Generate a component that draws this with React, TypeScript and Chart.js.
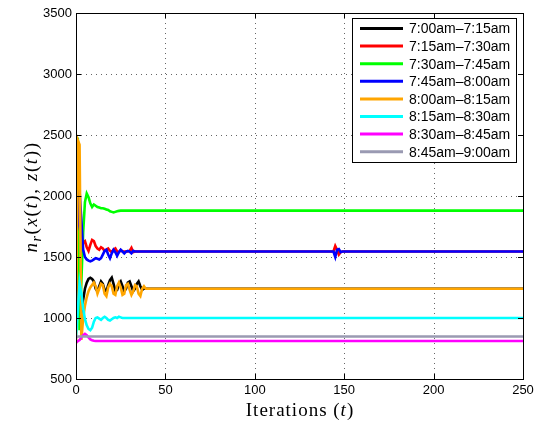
import React, { useEffect, useRef } from "react";
import { Chart, registerables } from "chart.js";

Chart.register(...registerables);

// Iterations 0..44 (early transient), then tail iterations
const earlyIters = [
  0, 1, 2, 3, 4, 5, 6, 7, 8, 9, 10, 11, 12, 13, 14, 15, 16, 17, 18, 19, 20, 21,
  22, 23, 24, 25, 26, 27, 28, 29, 30, 31, 32, 33, 34, 35, 36, 37, 38, 39, 40,
  41, 42, 43, 44,
];
const tailIters = [144, 145, 146, 147, 148, 149, 250];

const seriesLabels = [
  "7:00am–7:15am",
  "7:15am–7:30am",
  "7:30am–7:45am",
  "7:45am–8:00am",
  "8:00am–8:15am",
  "8:15am–8:30am",
  "8:30am–8:45am",
  "8:45am–9:00am",
];
const seriesColors = [
  "#000000",
  "#ff0000",
  "#00ff00",
  "#0000ff",
  "#ffa500",
  "#00ffff",
  "#ff00ff",
  "#9a9ab2",
];

const blackEarly = [
  1100, 1420, 1200, 1040, 1150, 1240, 1290, 1320, 1330, 1320, 1300, 1240, 1220,
  1260, 1300, 1280, 1230, 1220, 1270, 1310, 1330, 1280, 1220, 1230, 1280, 1300,
  1260, 1220, 1240, 1290, 1300, 1260, 1220, 1240, 1280, 1300, 1260, 1230, 1240,
  1240, 1240, 1240, 1240, 1240, 1240,
];
const blackTail = [1240, 1240, 1240, 1240, 1240, 1240, 1240];

const redEarly = [
  1750, 1600, 1300, 1550, 1620, 1630, 1580, 1550, 1600, 1640, 1630, 1590, 1570,
  1560, 1580, 1570, 1550, 1560, 1570, 1550, 1540, 1560, 1570, 1545, 1540, 1555,
  1545, 1545, 1545, 1545, 1550, 1575, 1540, 1545, 1545, 1545, 1545, 1545, 1545,
  1545, 1545, 1545, 1545, 1545, 1545,
];
const redTail = [1545, 1590, 1560, 1520, 1540, 1545, 1545];

const greenEarly = [
  2480, 2470, 900, 1300, 1700, 1950, 2020, 1990, 1940, 1910, 1930, 1920, 1910,
  1905, 1900, 1900, 1895, 1890, 1885, 1875, 1870, 1865, 1870, 1875, 1878, 1880,
  1880, 1880, 1880, 1880, 1880, 1880, 1880, 1880, 1880, 1880, 1880, 1880, 1880,
  1880, 1880, 1880, 1880, 1880, 1880,
];
const greenTail = [1880, 1880, 1880, 1880, 1880, 1880, 1880];

const blueEarly = [
  1680, 1760, 2040, 1800, 1560, 1500, 1480, 1470, 1465, 1470, 1480, 1490, 1485,
  1480, 1490, 1520, 1550, 1560, 1520, 1490, 1530, 1560, 1540, 1510, 1540, 1560,
  1545, 1530, 1545, 1550, 1545, 1530, 1550, 1545, 1545, 1545, 1545, 1545, 1545,
  1545, 1545, 1545, 1545, 1545, 1545,
];
const blueTail = [1545, 1500, 1560, 1565, 1540, 1545, 1545];

const orangeEarly = [
  790, 2460, 2420, 820, 1000, 1100, 1170, 1220, 1250, 1270, 1290, 1260, 1200,
  1240, 1280, 1270, 1200, 1180, 1250, 1280, 1260, 1200, 1190, 1260, 1290, 1250,
  1190, 1200, 1270, 1280, 1230, 1190, 1220, 1270, 1260, 1200, 1180, 1240, 1260,
  1240, 1240, 1240, 1240, 1240, 1240,
];
const orangeTail = [1240, 1240, 1240, 1240, 1240, 1240, 1240];

const cyanEarly = [
  850, 1050, 1290, 1200, 1080, 990, 940, 910, 900, 920, 970, 1000, 1005, 995,
  985, 1000, 1010, 1000, 985, 980, 990, 1000, 1005, 1000, 1010, 1005, 1000, 1000,
  1000, 1000, 1000, 1000, 1000, 1000, 1000, 1000, 1000, 1000, 1000, 1000, 1000,
  1000, 1000, 1000, 1000,
];
const cyanTail = [1000, 1000, 1000, 1000, 1000, 1000, 1000];

const magentaEarly = [
  800, 810, 820, 840, 860, 870, 860, 840, 825, 818, 814, 812, 812, 812, 812,
  812, 812, 812, 812, 812, 812, 812, 812, 812, 812, 812, 812, 812, 812, 812, 812,
  812, 812, 812, 812, 812, 812, 812, 812, 812, 812, 812, 812, 812, 812,
];
const magentaTail = [812, 812, 812, 812, 812, 812, 812];

const grayEarly = [
  840, 848, 848, 848, 848, 848, 848, 848, 848, 848, 848, 848, 848, 848, 848, 848,
  848, 848, 848, 848, 848, 848, 848, 848, 848, 848, 848, 848, 848, 848, 848, 848,
  848, 848, 848, 848, 848, 848, 848, 848, 848, 848, 848, 848, 848,
];
const grayTail = [848, 848, 848, 848, 848, 848, 848];

const seriesEarly = [
  blackEarly,
  redEarly,
  greenEarly,
  blueEarly,
  orangeEarly,
  cyanEarly,
  magentaEarly,
  grayEarly,
];
const seriesTail = [
  blackTail,
  redTail,
  greenTail,
  blueTail,
  orangeTail,
  cyanTail,
  magentaTail,
  grayTail,
];

const xTicks = [0, 50, 100, 150, 200, 250];
const yTicks = [500, 1000, 1500, 2000, 2500, 3000, 3500];

const SERIF = "'Liberation Serif', 'DejaVu Serif', serif";
const SANS = "'Liberation Sans', Arial, sans-serif";

type Seg = { t: string; f: string; dy?: number };

function drawRich(ctx: any, segs: Seg[], cx: number, cy: number, spacing: number) {
  ctx.letterSpacing = `${spacing}px`;
  let total = 0;
  for (const s of segs) {
    ctx.font = s.f;
    total += ctx.measureText(s.t).width;
  }
  let x = cx - total / 2;
  ctx.textBaseline = "alphabetic";
  ctx.textAlign = "left";
  for (const s of segs) {
    ctx.font = s.f;
    ctx.fillText(s.t, x, cy + (s.dy || 0));
    x += ctx.measureText(s.t).width;
  }
  ctx.letterSpacing = "0px";
}

const decorPlugin = {
  id: "decor",
  beforeDatasetsDraw(chart: any) {
    const ctx: CanvasRenderingContext2D = chart.ctx;
    const { left, right, top, bottom } = chart.chartArea;
    const xs = chart.scales.x;
    const ys = chart.scales.y;
    ctx.save();
    ctx.strokeStyle = "rgba(0,0,0,0.6)";
    ctx.lineWidth = 1;
    ctx.setLineDash([1, 4]);
    ctx.beginPath();
    for (const v of xTicks.slice(1, -1)) {
      const px = Math.round(xs.getPixelForValue(v)) + 0.5;
      ctx.moveTo(px, bottom);
      ctx.lineTo(px, top);
    }
    for (const v of yTicks.slice(1, -1)) {
      const py = Math.round(ys.getPixelForValue(v)) + 0.5;
      ctx.moveTo(left, py);
      ctx.lineTo(right, py);
    }
    ctx.stroke();
    ctx.restore();
  },
  afterDraw(chart: any) {
    const ctx: CanvasRenderingContext2D = chart.ctx;
    const { left, right, top, bottom } = chart.chartArea;
    const xs = chart.scales.x;
    const ys = chart.scales.y;
    ctx.save();
    // box
    ctx.strokeStyle = "#000";
    ctx.lineWidth = 1;
    ctx.strokeRect(Math.round(left) + 0.5, Math.round(top) + 0.5, Math.round(right - left), Math.round(bottom - top));
    // inward ticks
    ctx.beginPath();
    for (const v of xTicks) {
      const px = Math.round(xs.getPixelForValue(v)) + 0.5;
      ctx.moveTo(px, bottom);
      ctx.lineTo(px, bottom - 5);
      ctx.moveTo(px, top);
      ctx.lineTo(px, top + 5);
    }
    for (const v of yTicks) {
      const py = Math.round(ys.getPixelForValue(v)) + 0.5;
      ctx.moveTo(left, py);
      ctx.lineTo(left + 5, py);
      ctx.moveTo(right, py);
      ctx.lineTo(right - 5, py);
    }
    ctx.stroke();

    // legend
    const lx = 352.5, ly = 18.5, lw = 164, lh = 144;
    ctx.fillStyle = "#fff";
    ctx.fillRect(lx, ly, lw, lh);
    ctx.strokeStyle = "#000";
    ctx.lineWidth = 1;
    ctx.strokeRect(lx, ly, lw, lh);
    ctx.font = `14px ${SANS}`;
    ctx.textBaseline = "middle";
    ctx.textAlign = "left";
    seriesLabels.forEach((lab, i) => {
      const y = 28.5 + i * 17.6;
      ctx.strokeStyle = seriesColors[i];
      ctx.lineWidth = 3;
      ctx.beginPath();
      ctx.moveTo(360, y);
      ctx.lineTo(403, y);
      ctx.stroke();
      ctx.fillStyle = "#000";
      ctx.fillText(lab, 409, y + 1);
    });

    // axis titles
    ctx.fillStyle = "#000";
    drawRich(
      ctx,
      [
        { t: "Iterations (", f: `19px ${SERIF}` },
        { t: "t", f: `italic 19px ${SERIF}` },
        { t: ")", f: `19px ${SERIF}` },
      ],
      300,
      416,
      1
    );
    ctx.save();
    ctx.translate(37, 197);
    ctx.rotate(-Math.PI / 2);
    const R = `19px ${SERIF}`;
    const I = `italic 19px ${SERIF}`;
    drawRich(
      ctx,
      [
        { t: "n", f: I },
        { t: "r", f: `italic 14px ${SERIF}`, dy: 4 },
        { t: "(", f: R },
        { t: "x", f: I },
        { t: "(", f: R },
        { t: "t", f: I },
        { t: "), ", f: R },
        { t: "z", f: I },
        { t: "(", f: R },
        { t: "t", f: I },
        { t: "))", f: R },
      ],
      0,
      0,
      1.6
    );
    ctx.restore();
    ctx.restore();
  },
};

export default function App() {
  const ref = useRef<HTMLCanvasElement | null>(null);
  useEffect(() => {
    document.body.style.margin = "0";
    const canvas = ref.current;
    if (!canvas) return;
    const datasets = seriesLabels.map((label, i) => {
      const xsAll = earlyIters.concat(tailIters);
      const vals = seriesEarly[i].concat(seriesTail[i]);
      return {
        label,
        data: xsAll.map((x, k) => ({ x, y: vals[k] })),
        borderColor: seriesColors[i],
        backgroundColor: seriesColors[i],
        borderWidth: 2.6,
        pointRadius: 0,
        tension: 0,
        showLine: true,
        fill: false,
        order: seriesLabels.length - i,
      };
    });
    const chart = new Chart(canvas, {
      type: "scatter",
      data: { datasets },
      plugins: [decorPlugin],
      options: {
        animation: false,
        responsive: false,
        maintainAspectRatio: false,
        layout: { padding: { top: 13, right: 20, left: 0, bottom: 0 } },
        plugins: { legend: { display: false }, tooltip: { enabled: false } },
        scales: {
          x: {
            type: "linear",
            min: 0,
            max: 250,
            afterBuildTicks: (s: any) => {
              s.ticks = xTicks.map((v) => ({ value: v }));
            },
            afterFit: (s: any) => {
              s.height = 48;
            },
            grid: { display: false, drawTicks: false },
            border: { display: false },
            ticks: {
              color: "#000",
              padding: 4,
              maxRotation: 0,
              font: { family: SANS, size: 13 },
              callback: (v: any) => String(v),
            },
          },
          y: {
            type: "linear",
            min: 500,
            max: 3500,
            afterBuildTicks: (s: any) => {
              s.ticks = yTicks.map((v) => ({ value: v }));
            },
            afterFit: (s: any) => {
              s.width = 76;
            },
            grid: { display: false, drawTicks: false },
            border: { display: false },
            ticks: {
              color: "#000",
              padding: 4,
              font: { family: SANS, size: 13 },
              callback: (v: any) => String(v),
            },
          },
        },
      },
    } as any);
    return () => chart.destroy();
  }, []);
  return (
    <div style={{ width: 543, height: 427, position: "relative" }}>
      <canvas ref={ref} width={543} height={427} style={{ display: "block" }} />
    </div>
  );
}
